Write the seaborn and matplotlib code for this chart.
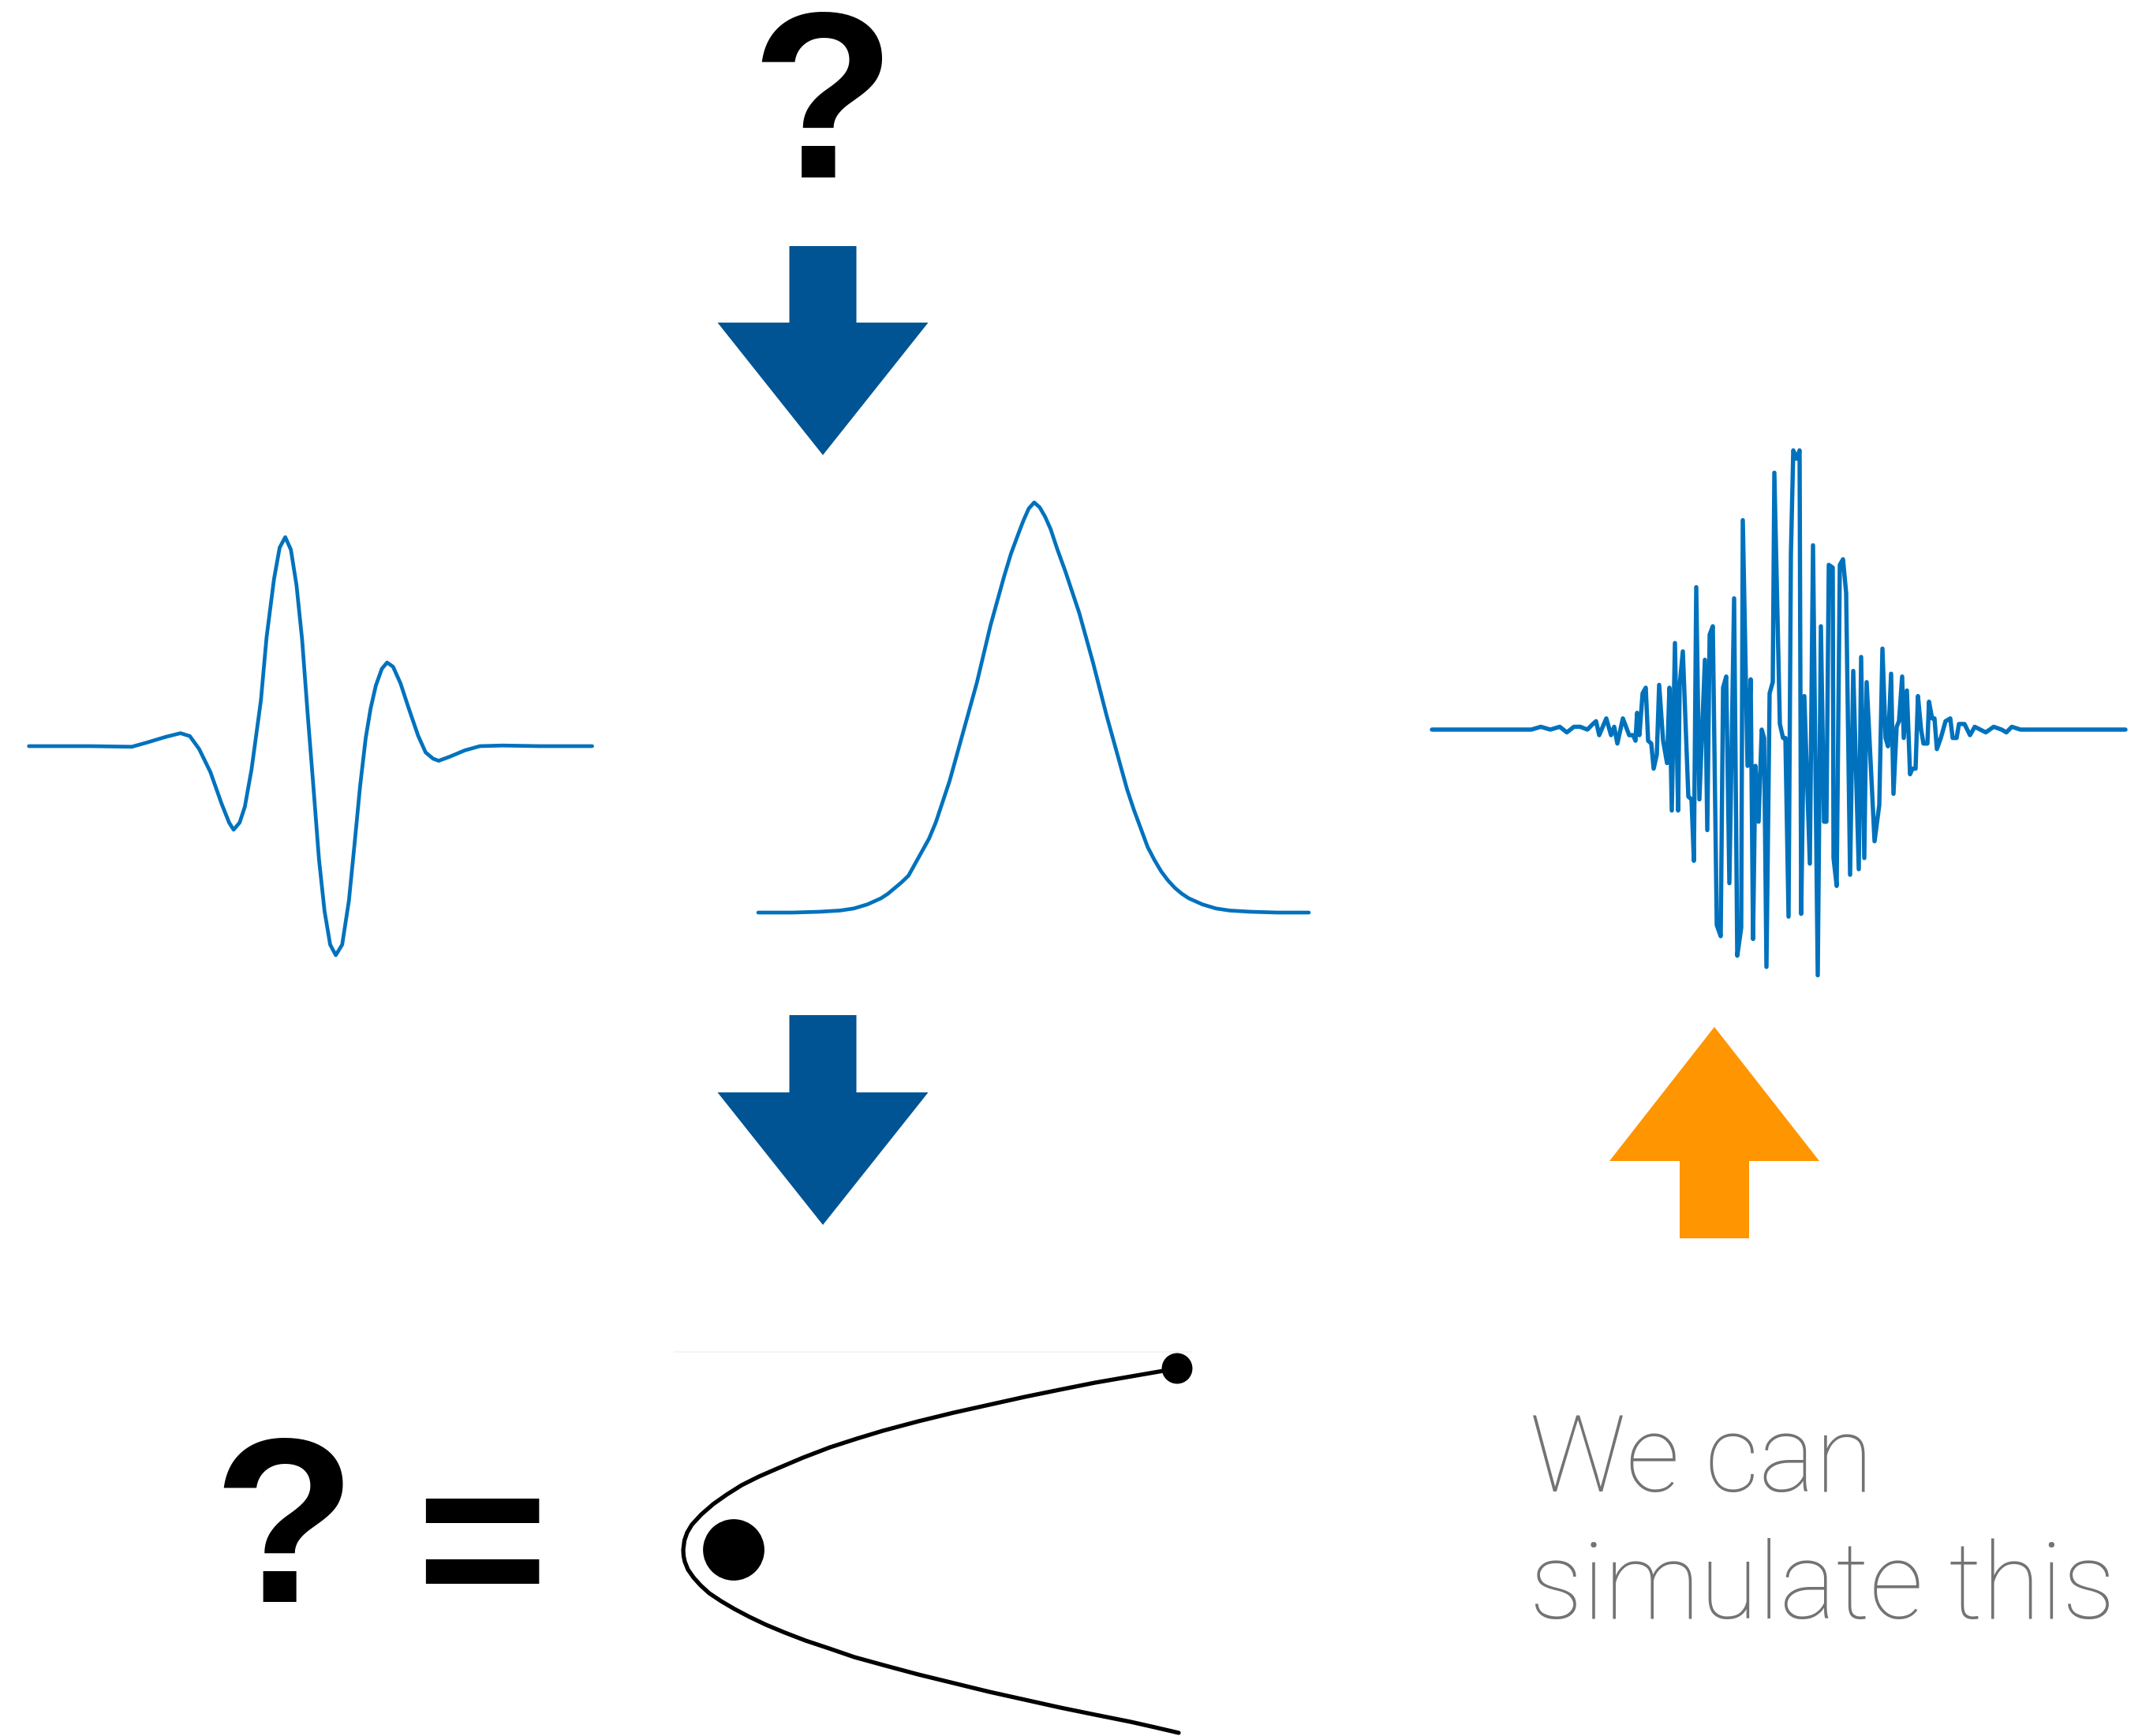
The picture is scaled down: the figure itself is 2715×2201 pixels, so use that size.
import numpy as np
import pandas as pd
import matplotlib
matplotlib.use("Agg")
import matplotlib.pyplot as plt
from matplotlib.patches import FancyArrow
import seaborn as sns

# canvas size in pixels (dpi 100)
W, H = 2715, 2201

# left panel: source wavelet (sample index, amplitude)
wavelet_t = [35, 200, 310, 350, 400, 440, 465, 490, 520, 550, 570, 582, 598, 612, 630,
             655, 670, 690, 705, 720, 735, 750, 765, 780, 795, 810, 825, 840, 855, 872,
             890, 905, 920, 935, 948, 962, 978, 992, 1008, 1028, 1050, 1075, 1095, 1115,
             1130, 1160, 1200, 1240, 1300, 1400, 1540]
wavelet_amp = [0, 0, -0.3, 1.7, 4.4, 6.2, 4.8, -1.4, -12.4, -27.6, -36.6, -40, -36.6, -29, -11,
               22, 52, 80, 95, 100, 94, 77, 51, 15, -19, -54, -79, -95, -100, -95,
               -74, -47, -19, 4, 18, 29, 37, 40, 38, 30, 18, 5, -3, -6,
               -7, -5, -2, 0, 0.3, 0, 0]

# middle panel: smooth pulse
pulse_t = [555, 580, 600, 615, 625, 635, 645, 650, 655, 660, 665, 670, 675, 680, 685, 690,
           695, 700, 705, 710, 715, 720, 725, 730, 735, 740, 745, 749, 753, 757, 761, 765,
           769, 774, 780, 785, 790, 795, 800, 805, 810, 815, 820, 825, 830, 835, 840, 845,
           850, 855, 860, 865, 870, 880, 890, 900, 915, 935, 958]
pulse_amp = [0, 0, 0.2, 0.5, 1, 2, 3.5, 4.6, 6, 7.4, 9, 12, 15, 18, 22, 27,
             32, 38, 44, 50, 56, 63, 70, 76, 82, 87.5, 92, 95.5, 98.5, 100, 98.8, 96.5,
             93.5, 88.5, 83, 78, 73, 67, 61, 54.5, 48, 42, 36, 30, 25, 20.5, 16, 12.8,
             10, 7.8, 6, 4.6, 3.5, 2, 1, 0.5, 0.2, 0, 0]

# right panel: recorded signal
signal_t = [0, 3, 115, 126, 138, 150, 162, 171, 180, 188, 197, 204, 208, 212, 221, 227, 231,
            235, 242, 250, 255, 258, 260, 263, 267, 271, 274, 278, 281, 285, 288, 293, 298,
            301, 304, 308, 312, 314, 318, 325, 329, 332, 335, 339, 346, 349, 352, 356, 361,
            366, 369, 373, 377, 383, 387, 392, 394, 400, 404, 407, 410, 414, 418, 421, 424,
            428, 432, 434, 441, 445, 448, 452, 455, 458, 462, 466, 468, 472, 479, 483, 489,
            493, 497, 500, 503, 508, 509, 513, 517, 521, 525, 530, 534, 541, 544, 548, 551,
            561, 567, 571, 575, 578, 582, 585, 589, 592, 596, 598, 602, 606, 609, 613, 616,
            620, 623, 628, 630, 634, 637, 640, 645, 651, 657, 660, 665, 668, 675, 682, 688,
            695, 702, 712, 722, 728, 735, 746, 769, 879]
signal_amp = [0, 0, 0, 0, 1, 0, 1, -1, 1, 1, 0, 2, 3, -2, 4, -2, 1,
              -5, 4, -2, -2, -4, 6, -2, 13, 15, -4, -5, -14, -9, 16, -4, -12,
              15, -29, 31, -29, 16, 28, -24, -25, -47, 51, -25, 25, -36, 34, 37, -70,
              -74, 15, 19, -55, 47, -81, -71, 75, -13, 18, -75, -13, -33, 0, -3, -85,
              13, 17, 92, 2, -3, -3, -67, 63, 100, 97, 100, -66, 12, -48, 66, -88,
              37, -33, -33, 59, 58, -46, -56, 59, 61, 49, -52, 21, -50, 26, -46, 17,
              -40, -27, 29, -3, -6, 20, -23, 1, 3, 19, -3, 14, -16, -14, -14, 12,
              0, -5, -5, 10, 4, 4, -7, -3, 3, 4, -3, -3, 2, 2, -2, 1,
              0, -1, 1, 0, -1, 1, 0, 0, 0]

# bottom: orbit track (upper branch -> vertex -> lower branch)
orbit_x = [626, 574, 522, 477, 433, 388, 343, 298, 253, 220, 186, 152, 119, 96, 74, 55,
           38, 23, 11, 5, 1.5, 0,
           0.5, 2, 6, 13, 22, 33, 48, 65, 84, 105, 129, 155, 185, 217, 257, 298, 343,
           388, 433, 478, 522, 567, 598, 628]
orbit_y = [230, 221, 212, 203, 194, 184, 174, 163, 151, 141, 130, 117, 103, 93, 82, 70,
           58, 45, 32, 22, 12, 0,
           -8, -15, -25, -35, -45, -55, -65, -75, -85, -95, -105, -115, -125, -136, -147,
           -158, -169, -180, -190, -200, -209, -218, -225, -232]
body_x = [64, 626]
body_y = [0, 230]
body_size = [3136, 784]

labels = ["We can", "simulate this"]

LINE = "#0072BD"
BLUE = "#005493"
ORANGE = "#FF9500"
GREY = "#737373"

sns.set_style("white")
plt.rcParams['font.family'] = ['Liberation Sans', 'DejaVu Sans']

fig = plt.figure(figsize=(W / 100, H / 100), dpi=100)


def box(x0, y0, x1, y1):
    return [x0 / W, 1 - y1 / H, (x1 - x0) / W, (y1 - y0) / H]


# overlay in pixel units for arrows and text
bg = fig.add_axes([0, 0, 1, 1], zorder=0)
bg.set_xlim(0, W)
bg.set_ylim(H, 0)
bg.axis("off")

bg.add_patch(FancyArrow(1043, 312, 0, 265, width=85, head_width=267, head_length=168,
                        length_includes_head=True, color=BLUE, lw=0))
bg.add_patch(FancyArrow(1043, 1287, 0, 266, width=85, head_width=267, head_length=168,
                        length_includes_head=True, color=BLUE, lw=0))
bg.add_patch(FancyArrow(2173, 1570, 0, -268, width=88, head_width=266, head_length=170,
                        length_includes_head=True, color=ORANGE, lw=0))

bg.text(1043, 225, "?", fontsize=216, fontweight="bold", ha="center", va="baseline", color="black")
bg.text(360, 2031, "?", fontsize=214, fontweight="bold", ha="center", va="baseline", color="black")
bg.text(611, 2049, "=", fontsize=206, fontweight="bold", ha="center", va="baseline", color="black")

for lab, base in zip(labels, [1891, 2052]):
    bg.text(1939, base, lab, fontsize=97, family=["Roboto", "DejaVu Sans"], fontweight="light",
            ha="left", va="baseline", color=GREY)

# left wavelet
ax1 = fig.add_axes(box(36.6, 681, 750.6, 1211), zorder=2)
sns.lineplot(x=wavelet_t, y=wavelet_amp, ax=ax1, color=LINE, linewidth=3.4, sort=False, estimator=None)
ax1.set_xlim(35, 1540)
ax1.set_ylim(-100, 100)

# middle pulse
ax2 = fig.add_axes(box(961, 637, 1659, 1157), zorder=2)
sns.lineplot(x=pulse_t, y=pulse_amp, ax=ax2, color=LINE, linewidth=3.4, sort=False, estimator=None)
ax2.set_xlim(555, 958)
ax2.set_ylim(0, 100)

# right signal
ax3 = fig.add_axes(box(1815, 571, 2694, 1279), zorder=2)
sns.lineplot(x=signal_t, y=signal_amp, ax=ax3, color=LINE, linewidth=3.9, sort=False, estimator=None)
ax3.set_xlim(0, 879)
ax3.set_ylim(-100, 100)

# orbit
ax4 = fig.add_axes(box(855, 1714, 1510, 2215), zorder=2)
sns.lineplot(x=orbit_x, y=orbit_y, ax=ax4, color="black", linewidth=3.8, sort=False, estimator=None)
sns.scatterplot(x=body_x, y=body_y, s=body_size, ax=ax4, color="black", edgecolor="none",
                legend=False, zorder=3)
ax4.set_xlim(-11, 644)
ax4.set_ylim(-250, 251)

for ax in (ax1, ax2, ax3, ax4):
    ax.set_xticks([])
    ax.set_yticks([])
    ax.set_xlabel("")
    ax.set_ylabel("")
    ax.patch.set_alpha(0)
    for s in ax.spines.values():
        s.set_visible(False)
    for art in ax.lines + ax.collections:
        art.set_clip_on(False)
        if hasattr(art, "set_solid_joinstyle"):
            art.set_solid_joinstyle("round")

ax4.spines["top"].set_visible(True)
ax4.spines["top"].set_color("#F4F4F4")
ax4.spines["top"].set_linewidth(1.5)

fig.savefig("out.png", dpi=100, facecolor="white")
